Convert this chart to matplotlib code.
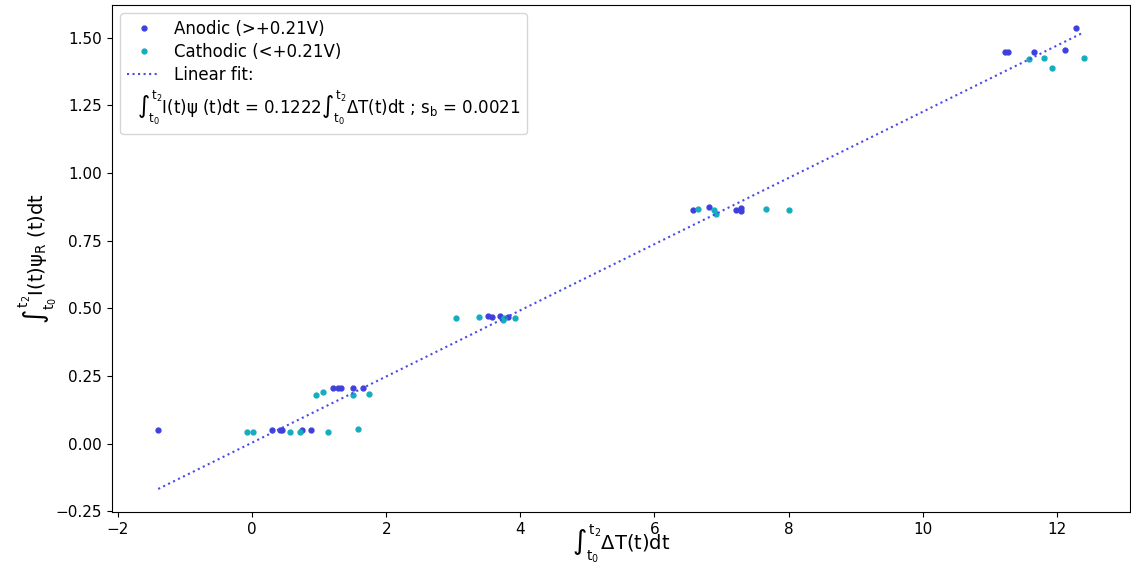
import matplotlib.pyplot as plt
import numpy as np

plt.rcParams['mathtext.fontset'] = 'custom'
plt.rcParams['mathtext.rm'] = 'DejaVu Sans'
plt.rcParams['mathtext.it'] = 'DejaVu Sans'
plt.rcParams['mathtext.sf'] = 'DejaVu Sans Display'
plt.rcParams['mathtext.default'] = 'rm'

# anodic points (>+0.21V)
anodic_x = [-1.40, 0.29, 0.42, 0.44, 0.75, 0.88, 1.20, 1.28, 1.32, 1.50, 1.66,
            3.52, 3.57, 3.70, 3.81, 6.57, 6.82, 7.21, 7.29, 7.29,
            11.23, 11.28, 11.66, 12.13, 12.29]
anodic_y = [0.052, 0.051, 0.051, 0.051, 0.051, 0.051, 0.204, 0.204, 0.204, 0.204, 0.204,
            0.470, 0.468, 0.470, 0.468, 0.864, 0.874, 0.864, 0.869, 0.861,
            1.448, 1.448, 1.448, 1.454, 1.535]

# cathodic points (<+0.21V)
cathodic_x = [-0.07, 0.02, 0.56, 0.72, 1.13, 1.58, 0.96, 1.05, 1.51, 1.75,
              3.04, 3.38, 3.74, 3.75, 3.92, 6.65, 6.89, 6.92, 7.66, 8.01,
              11.59, 11.81, 11.93, 12.40]
cathodic_y = [0.042, 0.042, 0.042, 0.042, 0.042, 0.054, 0.181, 0.190, 0.181, 0.184,
              0.463, 0.467, 0.456, 0.466, 0.464, 0.867, 0.864, 0.848, 0.867, 0.864,
              1.420, 1.423, 1.388, 1.423]

slope = 0.1222
intercept = 0.004
s_b = 0.0021

integ = '$\\mathsf{\\int}_{t_0}^{t_2}$'

fig = plt.figure(figsize=(11.31, 5.72), dpi=100)
ax = fig.add_axes([0.099, 0.105, 0.9, 0.886])

ax.plot(anodic_x, anodic_y, '.', color='#3f3fdc', markersize=7, label='Anodic (>+0.21V)')
ax.plot(cathodic_x, cathodic_y, '.', color='#14adbf', markersize=7, label='Cathodic (<+0.21V)')

all_x = np.array(anodic_x + cathodic_x)
fit_x = np.array([all_x.min(), all_x.max()])
ax.plot(fit_x, slope * fit_x + intercept, ':', color='#4a4ae8', linewidth=1.5, label='Linear fit:')
# formula goes on its own legend row, no handle
ax.plot([], [], ' ', label='%s\u2160(t)\u03c8 (t)dt = %.4f%s\u0394T(t)dt ; s$_b$ = %.4f'
        % (integ, slope, integ, s_b))

ax.set_xlim(-2.09, 13.09)
ax.set_ylim(-0.252, 1.62)
ax.set_yticks([-0.25, 0, 0.25, 0.5, 0.75, 1.0, 1.25, 1.5])
ax.tick_params(labelsize=11)
ax.set_xlabel('%s\u0394T(t)dt' % integ, fontsize=14, labelpad=-10)
ax.set_ylabel('%s\u2160(t)\u03c8$_R$ (t)dt' % integ, fontsize=14, labelpad=-2)
leg = ax.legend(loc='upper left', fontsize=12, handlelength=2.0, labelspacing=0.3)

# shrink the empty handle of the formula row so its text starts further left
rows = leg._legend_handle_box.get_children()[0].get_children()
rows[3].get_children()[0].width = -2.2

fig.savefig('out.png', dpi=100)
